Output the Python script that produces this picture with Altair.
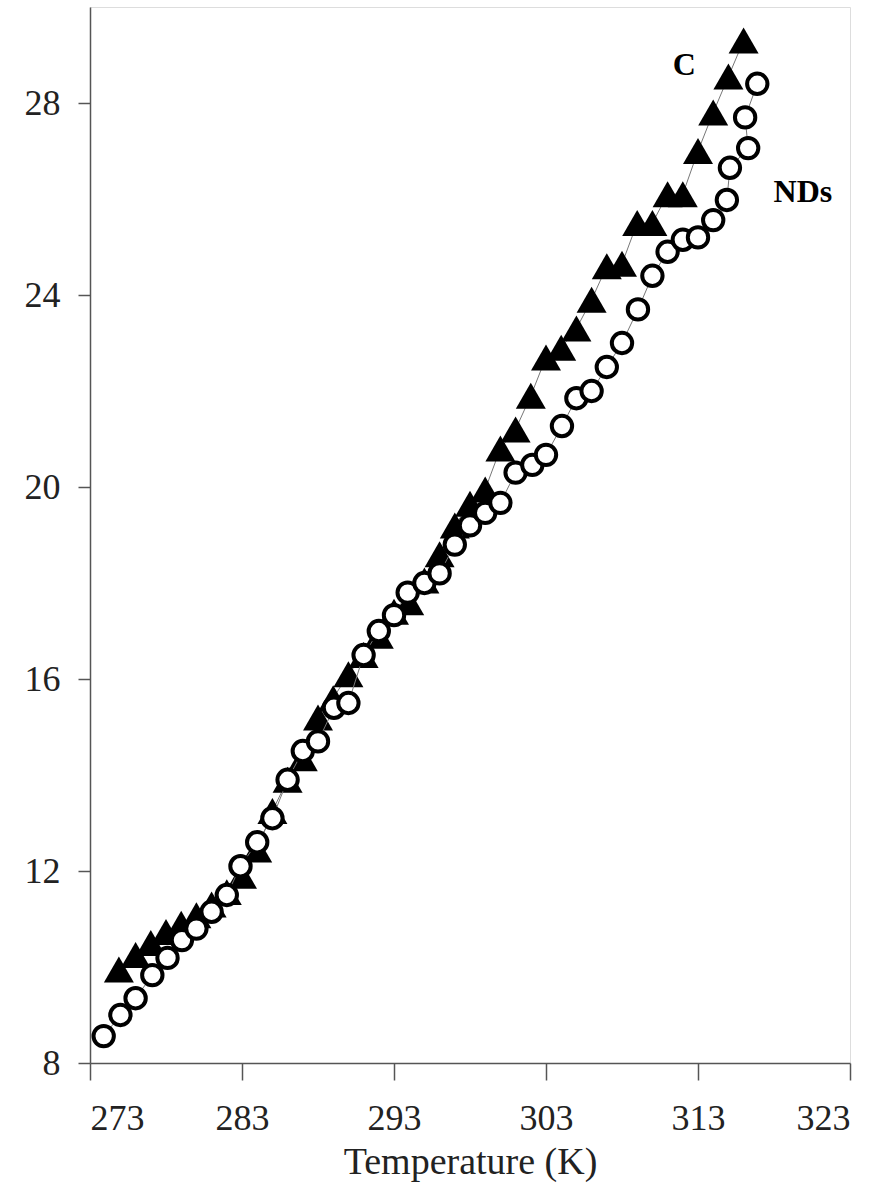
import altair as alt
import pandas as pd

# Series C (filled triangles)
c_temp = [274.9, 276.0, 277.0, 278.0, 279.0, 280.0, 281.0, 282.0, 283.0, 284.0,
          285.0, 286.0, 287.0, 288.0, 289.0, 290.0, 291.0, 292.0, 293.0, 294.0,
          295.0, 296.0, 297.0, 298.0, 299.0, 300.0, 301.0, 302.0, 303.0, 304.0,
          305.0, 306.0, 307.0, 308.0, 309.0, 310.0, 311.0, 312.0, 313.0, 314.0,
          315.0, 316.0]
c_val = [9.95, 10.25, 10.5, 10.73, 10.9, 11.08, 11.3, 11.56, 11.9, 12.45,
         13.25, 13.9, 14.35, 15.2, 15.6, 16.1, 16.5, 16.9, 17.4, 17.6,
         18.05, 18.6, 19.2, 19.65, 19.95, 20.8, 21.2, 21.9, 22.7, 22.9,
         23.3, 23.9, 24.6, 24.65, 25.5, 25.5, 26.1, 26.1, 27.0, 27.8,
         28.55, 29.3]

# Series NDs (open circles)
nd_temp = [273.9, 275.0, 276.0, 277.1, 278.1, 279.05, 280.0, 281.0, 282.0, 282.9,
           284.0, 285.0, 286.0, 287.0, 288.0, 289.05, 290.0, 291.0, 292.0, 293.0,
           293.9, 295.0, 296.0, 297.0, 298.0, 299.0, 300.0, 301.0, 302.1, 303.0,
           304.05, 305.0, 306.0, 307.0, 308.0, 309.05, 310.0, 311.0, 312.0, 313.0,
           314.0, 314.9, 315.1, 316.3, 316.1, 316.9]
nd_val = [8.56, 9.0, 9.35, 9.83, 10.19, 10.56, 10.8, 11.15, 11.5, 12.1,
          12.6, 13.1, 13.9, 14.5, 14.7, 15.4, 15.5, 16.5, 17.0, 17.33,
          17.8, 18.0, 18.2, 18.8, 19.2, 19.46, 19.67, 20.3, 20.46, 20.67,
          21.27, 21.85, 22.0, 22.5, 23.0, 23.7, 24.4, 24.9, 25.15, 25.2,
          25.56, 25.98, 26.65, 27.06, 27.7, 28.4]

x_ticks = [273, 283, 293, 303, 313, 323]
y_ticks = [8, 12, 16, 20, 24, 28]

label_text = ["C", "NDs"]
label_temp = [312.1, 319.9]
label_val = [28.8, 26.15]

df_c = pd.DataFrame({"T": c_temp, "V": c_val, "i": list(range(len(c_temp)))})
df_n = pd.DataFrame({"T": nd_temp, "V": nd_val, "i": list(range(len(nd_temp)))})
df_l = pd.DataFrame({"T": label_temp, "V": label_val, "txt": label_text})

FONT = "Liberation Serif"

x = alt.X("T:Q",
          scale=alt.Scale(domain=[273, 323], nice=False, zero=False),
          axis=alt.Axis(values=x_ticks, title="Temperature (K)", grid=False,
                        domainColor="#555", domainWidth=1.5, tickColor="#555",
                        tickWidth=1.5, tickSize=17, labelFont=FONT, labelFontSize=36,
                        labelColor="#222", labelPadding=21, titleFont=FONT,
                        titleFontSize=38, titleFontWeight="normal", titleColor="#222",
                        titlePadding=7))
y = alt.Y("V:Q",
          scale=alt.Scale(domain=[8, 30], nice=False, zero=False),
          axis=alt.Axis(values=y_ticks, title=None, grid=False,
                        domainColor="#555", domainWidth=1.5, tickColor="#555",
                        tickWidth=1.5, tickSize=12, labelFont=FONT, labelFontSize=36,
                        labelColor="#222", labelPadding=18))

line_c = alt.Chart(df_c).mark_line(color="#777", strokeWidth=1).encode(
    x=x, y=y, order="i:Q")
pts_c = alt.Chart(df_c).mark_point(shape="triangle-up", filled=True, color="black",
                                   size=900, opacity=1).encode(x=x, y=y)
line_n = alt.Chart(df_n).mark_line(color="#777", strokeWidth=1).encode(
    x=x, y=y, order="i:Q")
pts_n = alt.Chart(df_n).mark_point(shape="circle", filled=False, fill="white",
                                   fillOpacity=1, stroke="black", strokeWidth=4,
                                   size=415, opacity=1).encode(x=x, y=y)
labels = alt.Chart(df_l).mark_text(font=FONT, fontSize=32, fontWeight="bold",
                                   color="black").encode(x=x, y=y, text="txt:N")

chart = alt.layer(line_c, pts_c, line_n, pts_n, labels).properties(
    width=760, height=1056,
    padding={"left": 90, "top": 7, "right": 29, "bottom": 137},
    autosize="none",
).configure_view(stroke=None).configure(background="white")

chart.save("out.html", embed_options={"renderer": "svg", "actions": False})
